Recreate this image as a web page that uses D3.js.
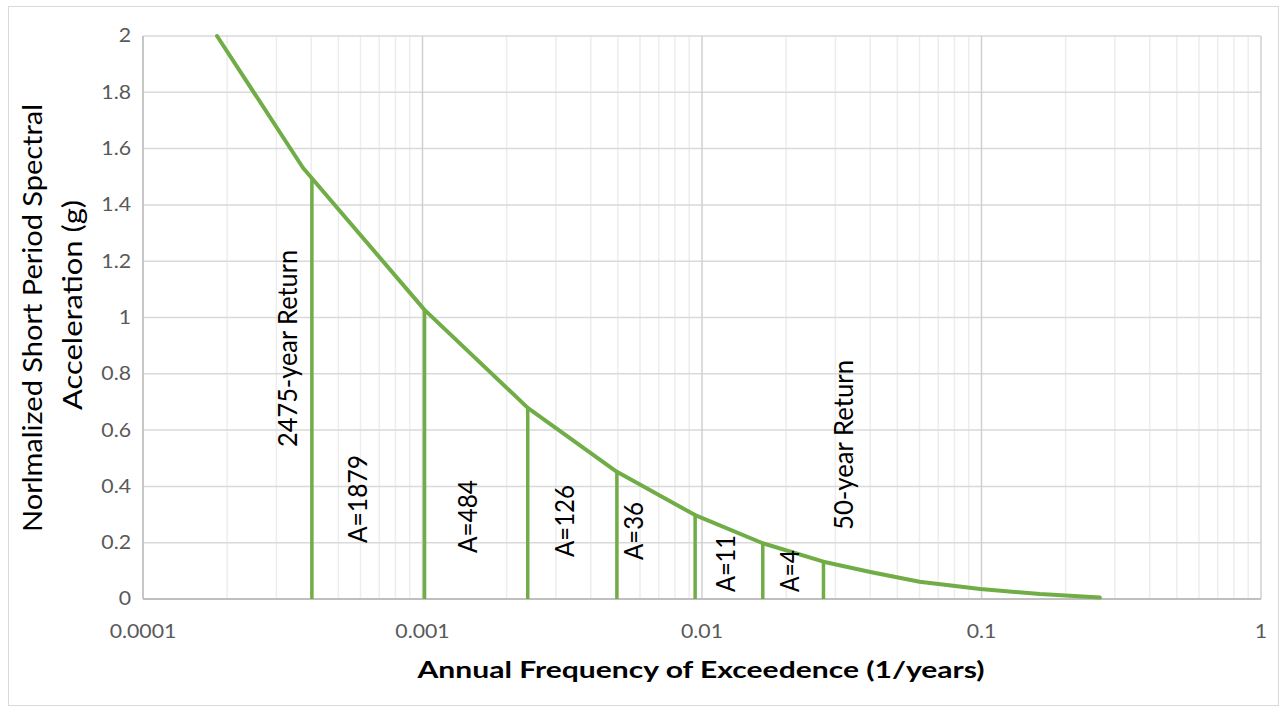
<!DOCTYPE html>
<html>
<head>
<meta charset="utf-8">
<script src="https://cdn.jsdelivr.net/npm/d3@7"></script>
<style>
  html, body { margin: 0; padding: 0; background: #fff; }
  svg { display: block; font-family: Lato, "Open Sans", sans-serif; }
</style>
</head>
<body>
<div class="chart-container"></div>
<script>
// hazard curve
const curveFreq = [0.000184, 0.000374, 0.001017, 0.00238, 0.00496, 0.00945, 0.0165, 0.0272, 0.040, 0.060, 0.099, 0.162, 0.265];
const curveSa   = [2.0,      1.531,    1.027,    0.679,   0.452,   0.298,   0.198,  0.1325, 0.096, 0.0615, 0.0355, 0.0178, 0.005];

// vertical drop lines
const dropFreq = [0.000402, 0.001017, 0.00238, 0.00496, 0.00945, 0.0165, 0.0272];
const dropSa   = [1.495,    1.027,    0.679,   0.452,   0.298,   0.198,  0.1325];

// annotations (centre of the rotated text, in data units)
const noteText = ['2475-year Return', 'A=1879', 'A=484', 'A=126', 'A=36', 'A=11', 'A=4', '50-year Return'];
const noteFreq = [0.000328, 0.000584, 0.001445, 0.003214, 0.005671, 0.01209, 0.02049, 0.0322];
const noteSa   = [0.89,     0.355,    0.293,    0.277,    0.2416,   0.126,   0.0995,  0.547];
const noteLen  = [197, 88, 73, 72, 58, 57, 42, 170];

const xTicks = [0.0001, 0.001, 0.01, 0.1, 1];
const xTickLabels = ['0.0001', '0.001', '0.01', '0.1', '1'];
const yTicks = [0, 0.2, 0.4, 0.6, 0.8, 1, 1.2, 1.4, 1.6, 1.8, 2];

const green = '#70ad47';
const stretch = 1.15;   // screenshot is a bit wider than tall

const outerW = 1285, outerH = 711;
const margin = { left: 143, top: 36, right: 24, bottom: 112 };
const w = outerW - margin.left - margin.right,
  h = outerH - margin.top - margin.bottom;

const svg = d3.select('.chart-container').append('svg')
  .attr('width', outerW)
  .attr('height', outerH);

svg.append('rect')
  .attr('x', 8.5).attr('y', 6.5)
  .attr('width', 1270).attr('height', 699)
  .attr('fill', '#fff')
  .attr('stroke', '#d9d9d9');

const g = svg.append('g')
  .attr('transform', `translate(${margin.left}, ${margin.top})`);

const x = d3.scaleLog().domain([0.0001, 1]).range([0, w]);
const y = d3.scaleLinear().domain([0, 2]).range([h, 0]);

// minor vertical grid
const minor = [];
xTicks.slice(0, -1).forEach(t => { for (let k = 2; k < 10; k++) minor.push(t * k); });

g.append('g').selectAll('line')
  .data(minor)
  .enter().append('line')
  .attr('x1', d => x(d)).attr('x2', d => x(d))
  .attr('y1', 0).attr('y2', h)
  .attr('stroke', '#ededed')
  .attr('stroke-width', 1.5);

g.append('g').selectAll('line')
  .data(yTicks)
  .enter().append('line')
  .attr('x1', 0).attr('x2', w)
  .attr('y1', d => y(d)).attr('y2', d => y(d))
  .attr('stroke', '#d9d9d9')
  .attr('stroke-width', 1.5);

g.append('g').selectAll('line')
  .data(xTicks)
  .enter().append('line')
  .attr('x1', d => x(d)).attr('x2', d => x(d))
  .attr('y1', 0).attr('y2', h)
  .attr('stroke', '#d0d0d0')
  .attr('stroke-width', 1.5);

// axis lines
g.append('line')
  .attr('x1', 0).attr('x2', w).attr('y1', h).attr('y2', h)
  .attr('stroke', '#bfbfbf').attr('stroke-width', 2);
g.append('line')
  .attr('x1', 0).attr('x2', 0).attr('y1', 0).attr('y2', h)
  .attr('stroke', '#bfbfbf').attr('stroke-width', 1.5);

// tick labels
g.append('g').selectAll('text')
  .data(xTicks)
  .enter().append('text')
  .attr('transform', d => `translate(${x(d)}, ${h + 39}) scale(${stretch},1)`)
  .attr('text-anchor', 'middle')
  .style('font-size', '18.5px')
  .style('fill', '#595959')
  .text((d, i) => xTickLabels[i]);

g.append('g').selectAll('text')
  .data(yTicks)
  .enter().append('text')
  .attr('transform', d => `translate(-12, ${y(d)}) scale(${stretch},1)`)
  .attr('text-anchor', 'end')
  .attr('dy', '0.35em')
  .style('font-size', '18.5px')
  .style('fill', '#595959')
  .text(d => d3.format('~g')(d));

// drop lines
g.append('g').selectAll('line')
  .data(dropFreq)
  .enter().append('line')
  .attr('x1', d => x(d)).attr('x2', d => x(d))
  .attr('y1', h).attr('y2', (d, i) => y(dropSa[i]))
  .attr('stroke', green)
  .attr('stroke-width', 3.5);

// curve
const line = d3.line()
  .x(d => x(d[0]))
  .y(d => y(d[1]));

g.append('path')
  .datum(curveFreq.map((f, i) => [f, curveSa[i]]))
  .attr('d', line)
  .attr('fill', 'none')
  .attr('stroke', green)
  .attr('stroke-width', 4)
  .attr('stroke-linejoin', 'round')
  .attr('stroke-linecap', 'round');

// annotations
g.append('g').selectAll('text')
  .data(noteText)
  .enter().append('text')
  .attr('transform', (d, i) => `translate(${x(noteFreq[i])}, ${y(noteSa[i])}) scale(${stretch},1) rotate(-90)`)
  .attr('text-anchor', 'middle')
  .attr('dy', '0.36em')
  .attr('textLength', (d, i) => noteLen[i])
  .attr('lengthAdjust', 'spacingAndGlyphs')
  .style('font-size', '23px')
  .style('fill', '#000')
  .text(d => d);

// axis titles
svg.append('text')
  .attr('transform', `translate(701, 678) scale(${stretch},1)`)
  .attr('text-anchor', 'middle')
  .attr('textLength', 567 / stretch)
  .attr('lengthAdjust', 'spacingAndGlyphs')
  .style('font-size', '22px')
  .style('font-weight', 'bold')
  .text('Annual Frequency of Exceedence (1/years)');

const yTitle = ['Norlmalized Short Period Spectral', 'Acceleration (g)'];
const yTitleLen = [428, 210];
svg.append('g').selectAll('text')
  .data(yTitle)
  .enter().append('text')
  .attr('transform', (d, i) => `translate(${32 + i * 40}, ${i ? 305 : 318}) scale(${stretch},1) rotate(-90)`)
  .attr('text-anchor', 'middle')
  .attr('dy', '0.36em')
  .attr('textLength', (d, i) => yTitleLen[i])
  .attr('lengthAdjust', 'spacingAndGlyphs')
  .style('font-size', '23px')
  .style('fill', '#000')
  .text(d => d);
</script>
</body>
</html>
